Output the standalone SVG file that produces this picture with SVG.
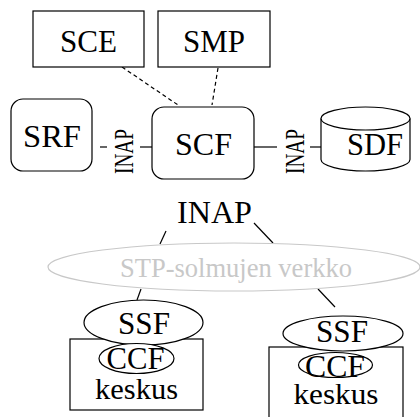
<svg xmlns="http://www.w3.org/2000/svg" width="420" height="417" viewBox="0 0 420 417">
<style>
.s{fill:#fff;stroke:#000;stroke-width:1.2}
.t{fill:#000;text-anchor:middle}
.c{stroke:#000;stroke-width:1.2;fill:none}
.d{stroke:#000;stroke-width:1.2;fill:none;stroke-dasharray:4 3}
</style>
<rect width="420" height="417" fill="#fff"/>
<g font-family="Liberation Serif, Times New Roman, serif">
<g id="connectors">
<line class="d" x1="122" y1="67" x2="178" y2="105"/>
<line class="d" x1="218" y1="68" x2="212" y2="105"/>
<line class="c" x1="100" y1="147" x2="107" y2="147"/>
<line class="c" x1="140" y1="147" x2="152" y2="147"/>
<line class="c" x1="254" y1="147" x2="277" y2="147"/>
<line class="c" x1="310" y1="147" x2="321" y2="147"/>
<line class="c" x1="166" y1="231" x2="160" y2="244"/>
<line class="c" x1="254" y1="223" x2="273" y2="243"/>
<line class="c" x1="141" y1="289" x2="137" y2="300"/>
<line class="c" x1="318" y1="289" x2="335" y2="307"/>
<text class="t" transform="translate(124 151.5) rotate(-90)" x="0" y="9" font-size="27" textLength="45" lengthAdjust="spacingAndGlyphs">INAP</text>
<text class="t" transform="translate(295 151.5) rotate(-90)" x="0" y="9" font-size="27" textLength="45" lengthAdjust="spacingAndGlyphs">INAP</text>
<text class="t" x="214.5" y="223" font-size="32" textLength="75" lengthAdjust="spacingAndGlyphs">INAP</text>
</g>
<g id="SCE">
<rect class="s" x="33" y="11" width="111" height="56"/>
<text class="t" x="88.5" y="52" font-size="32" textLength="57" lengthAdjust="spacingAndGlyphs">SCE</text>
</g>
<g id="SMP">
<rect class="s" x="158" y="11" width="112" height="56"/>
<text class="t" x="214" y="52" font-size="32" textLength="62" lengthAdjust="spacingAndGlyphs">SMP</text>
</g>
<g id="SRF">
<rect class="s" x="11" y="99" width="81" height="72" rx="12"/>
<text class="t" x="52" y="147" font-size="32" textLength="58" lengthAdjust="spacingAndGlyphs">SRF</text>
</g>
<g id="SCF">
<rect class="s" x="152" y="107" width="102" height="72" rx="12"/>
<text class="t" x="203.5" y="155" font-size="32" textLength="57" lengthAdjust="spacingAndGlyphs">SCF</text>
</g>
<g id="SDF">
<path class="s" d="M321 118.5 V159.5 A44.5 11.5 0 0 0 410 159.5 V118.5"/>
<ellipse class="s" cx="365.5" cy="118.5" rx="44.5" ry="11.5"/>
<text class="t" x="375" y="155" font-size="32" textLength="56" lengthAdjust="spacingAndGlyphs">SDF</text>
</g>
<g id="STP">
<ellipse cx="234" cy="267" rx="186" ry="24" fill="none" stroke="#c8c8c8" stroke-width="1.2"/>
<text x="236" y="277" font-size="27" fill="#c8c8c8" text-anchor="middle" textLength="232" lengthAdjust="spacingAndGlyphs">STP-solmujen verkko</text>
</g>
<g id="keskus1">
<rect class="s" x="70" y="339" width="133" height="71"/>
<ellipse class="s" cx="143.5" cy="322.5" rx="59.5" ry="22.5"/>
<text class="t" x="144" y="334" font-size="31" textLength="52" lengthAdjust="spacingAndGlyphs">SSF</text>
<ellipse class="s" cx="136.5" cy="358.5" rx="37.5" ry="15"/>
<text class="t" x="135.5" y="369" font-size="31" textLength="58" lengthAdjust="spacingAndGlyphs">CCF</text>
<text class="t" x="136.5" y="399" font-size="30" textLength="83" lengthAdjust="spacingAndGlyphs">keskus</text>
</g>
<g id="keskus2">
<rect class="s" x="269" y="347" width="134" height="80"/>
<ellipse class="s" cx="343" cy="333.5" rx="60" ry="17.5"/>
<text class="t" x="342" y="342" font-size="31" textLength="52" lengthAdjust="spacingAndGlyphs">SSF</text>
<ellipse class="s" cx="335.5" cy="365" rx="37" ry="12.5"/>
<text class="t" x="335" y="377" font-size="31" textLength="60" lengthAdjust="spacingAndGlyphs">CCF</text>
<text class="t" x="336" y="404" font-size="30" textLength="85" lengthAdjust="spacingAndGlyphs">keskus</text>
</g>
</g>
</svg>
